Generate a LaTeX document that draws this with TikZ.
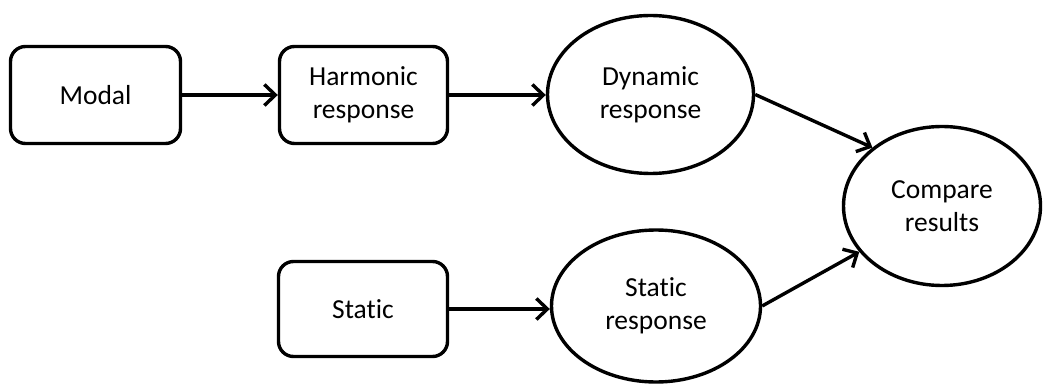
\documentclass[tikz,border=0pt]{standalone}
\usepackage{fontspec}
\setmainfont{Carlito}[Ligatures={NoCommon}]
\usetikzlibrary{arrows.meta,shapes.geometric}
\begin{document}
\begin{tikzpicture}[x=1pt,y=-1pt,
  every node/.style={font=\fontsize{27.5}{33}\selectfont, align=center, inner sep=0pt, text=black},
  procbox/.style={draw, line width=3.4pt, rounded corners=15pt},
  resell/.style={draw, ellipse, line width=3.4pt},
  flow/.style={line width=3.4pt, -{Straight Barb[length=11pt,width=21pt,line width=3.4pt]}}]
\useasboundingbox (0,0) rectangle (1043,387);
\node[procbox, minimum width=170pt, minimum height=97pt] (modal) at (95.5,95) {Modal};
\node[procbox, minimum width=168pt, minimum height=97pt] (harm) at (363.5,95) {Harmonic\\response};
\node[procbox, minimum width=169pt, minimum height=95pt] (stat) at (363,309) {Static};
\node[resell, minimum width=206pt, minimum height=158pt] (dyn) at (650.5,94.5) {Dynamic\\response};
\node[resell, minimum width=209pt, minimum height=152pt] (sresp) at (656,306) {Static\\response};
\node[resell, minimum width=197pt, minimum height=159pt] (cmp) at (942,206) {Compare\\results};
\draw[flow] (modal.east) -- (harm.west);
\draw[flow] (harm.east) -- (harm.east -| dyn.west);
\draw[flow] (stat.east) -- (stat.east -| sresp.west);
\draw[flow] (dyn.east) -- (cmp.140);
\draw[flow] (sresp.east) -- (cmp.209);
\end{tikzpicture}
\end{document}
